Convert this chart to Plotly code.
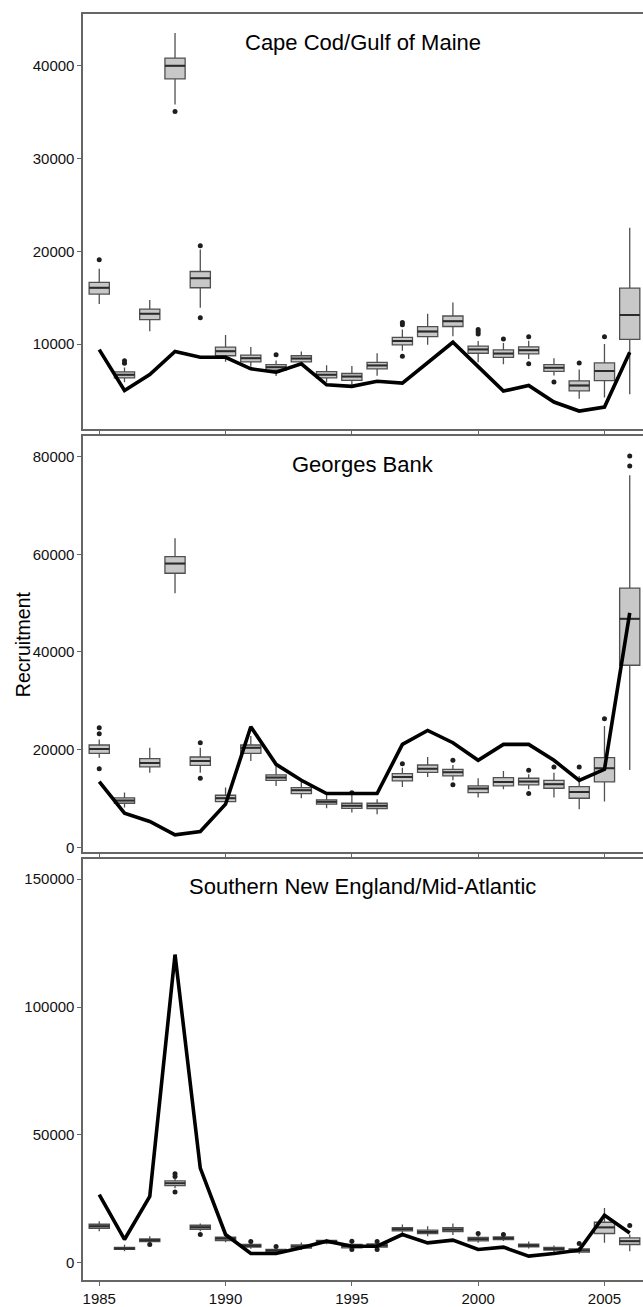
import plotly.graph_objects as go

# Recruitment by year for three stock areas: simulated distributions (boxes)
# and the point estimate series (black line).
years = list(range(1985, 2007))

# Cape Cod/Gulf of Maine
cc_q1 = [15400, 6380, 12640, 38570, 16080, 8760, 8100, 7200, 8100, 6385, 6120,
         7340, 9940, 10820, 11910, 9030, 8580, 8960, 7085, 4990, 6080, 10530]
cc_med = [16075, 6720, 13290, 39970, 17100, 9250, 8500, 7530, 8460, 6725, 6525,
          7720, 10355, 11370, 12485, 9445, 8995, 9355, 7475, 5560, 7110, 13145]
cc_q3 = [16650, 7030, 13790, 40800, 17830, 9690, 8840, 7815, 8760, 7045, 6850,
         8060, 10730, 11890, 13040, 9800, 9405, 9725, 7815, 6065, 7995, 16040]
cc_lo = [14325, 5920, 11410, 35800, 13930, 8130, 7580, 6580, 7700, 5920, 5600,
         6600, 9300, 9940, 10860, 8070, 7850, 8420, 6630, 4130, 4260, 4630]
cc_hi = [18120, 7500, 14755, 43510, 20200, 11000, 9710, 8240, 9225, 7740, 7670,
         9030, 11580, 13290, 14485, 10350, 10140, 10390, 8480, 7275, 10030, 22550]
cc_out_year = [1985, 1986, 1986, 1988, 1989, 1989, 1992, 1997, 1997, 1997,
               2000, 2000, 2000, 2001, 2002, 2002, 2003, 2004, 2005]
cc_out_val = [19100, 7950, 8230, 35050, 20600, 12860, 8870, 12100, 12350, 8720,
              11100, 11350, 11600, 10570, 10820, 7900, 5950, 7980, 10820]
cc_line = [9420, 5020, 6740, 9230, 8600, 8600, 7350, 6995, 7900, 5635, 5470,
           6010, 5815, 8030, 10215, 7590, 4960, 5560, 3780, 2810, 3240, 9140]

# Georges Bank
gb_q1 = [19245, 9040, 16470, 56120, 16800, 9390, 19245, 13735, 11020, 8840, 8000,
         7960, 13605, 15365, 14635, 11225, 12590, 12795, 12110, 10060, 13400, 37290]
gb_med = [20140, 9590, 17285, 58100, 17690, 10060, 20400, 14285, 11695, 9325, 8540,
          8510, 14430, 16120, 15375, 12040, 13400, 13470, 12925, 11360, 16190, 46800]
gb_q3 = [20960, 10140, 18165, 59530, 18500, 10675, 20960, 14835, 12245, 9735, 9040,
         9040, 15100, 16870, 15985, 12590, 14285, 14150, 13735, 12450, 18365, 53060]
gb_lo = [18370, 8160, 15305, 52040, 15305, 8510, 17690, 12590, 10060, 8020, 7140,
         6800, 12380, 14430, 13735, 10205, 11905, 11905, 10205, 7820, 9390, 15850]
gb_hi = [22100, 11225, 20410, 63265, 20410, 12245, 22800, 16675, 13470, 10880, 10755,
         9860, 16325, 18500, 16870, 14150, 15645, 14965, 15305, 14635, 24830, 76190]
gb_out_year = [1985, 1985, 1985, 1989, 1989, 1995, 1997, 1999, 1999, 2002, 2002,
               2003, 2004, 2005, 2006, 2006]
gb_out_val = [24490, 23265, 16120, 21430, 14150, 11200, 17140, 17820, 12800, 15780,
              11020, 16470, 16470, 26330, 80140, 78100]
gb_line = [13470, 7010, 5305, 2585, 3265, 8845, 24695, 17005, 13735, 11020, 11020,
           11020, 21090, 23945, 21430, 17825, 21090, 21090, 17825, 13735, 15985, 48000]

# Southern New England/Mid-Atlantic
sn_q1 = [13520, 5220, 8340, 30160, 13130, 8730, 6120, 4290, 5730, 7790, 5850,
         6120, 12470, 11460, 12240, 8570, 9120, 6235, 4950, 4170, 11460, 7170]
sn_med = [14300, 5610, 8850, 31060, 13910, 9510, 6625, 4830, 6390, 8340, 6510,
          6780, 13130, 12080, 13015, 9235, 9625, 6780, 5455, 4830, 13840, 8455]
sn_q3 = [15080, 6000, 9350, 32000, 14690, 10015, 7170, 5220, 7015, 8730, 7170,
         7405, 13795, 12745, 13795, 9900, 10130, 7290, 6000, 5455, 15860, 9745]
sn_lo = [12350, 4560, 7700, 29110, 12350, 8000, 5500, 3700, 5000, 7300, 5500,
         5600, 11460, 10400, 10900, 7800, 8500, 5600, 4200, 3500, 7800, 4560]
sn_hi = [16250, 7015, 10400, 32735, 15350, 11300, 7700, 5700, 7900, 9300, 7800,
         7900, 14960, 14300, 15350, 10700, 10500, 8340, 6800, 6200, 21430, 11070]
sn_out_year = [1987, 1988, 1988, 1988, 1989, 1991, 1992, 1995, 1995, 1996, 1996,
               2000, 2001, 2004, 2006]
sn_out_val = [7170, 34840, 33790, 27670, 11070, 8340, 6390, 8460, 5220, 8340, 5220,
              11460, 11070, 7560, 14575]
sn_line = [26700, 9120, 25990, 120500, 37020, 11070, 3660, 3660, 5850, 8460, 6500,
           6500, 11070, 7790, 8850, 5220, 6120, 2610, 3660, 4950, 18590, 11690]

panels = [
    ("Cape Cod/Gulf of Maine", cc_q1, cc_med, cc_q3, cc_lo, cc_hi,
     cc_out_year, cc_out_val, cc_line),
    ("Georges Bank", gb_q1, gb_med, gb_q3, gb_lo, gb_hi,
     gb_out_year, gb_out_val, gb_line),
    ("Southern New England/Mid-Atlantic", sn_q1, sn_med, sn_q3, sn_lo, sn_hi,
     sn_out_year, sn_out_val, sn_line),
]

W, H = 643, 1307
FONT = "Liberation Sans, Arial, Helvetica, sans-serif"
AXIS_GREY = "#666666"

# panel geometry in pixels (top, bottom) and value ranges
panel_px = [(14.3, 430.7), (437.7, 854.3), (861.7, 1284.3)]
y_ranges = [[837, 45517], [-878, 84142], [-6859, 157829]]
y_ticks = [[10000, 20000, 30000, 40000],
           [0, 20000, 40000, 60000, 80000],
           [0, 50000, 100000, 150000]]
x_left_px = 82.3
x_range = [1984.364, 2006.525]

fig = go.Figure()
annotations = []

for i, (title, q1, med, q3, lo, hi, oy, ov, line) in enumerate(panels):
    n = "" if i == 0 else str(i + 1)
    xa, ya = "x" + n, "y" + n

    fig.add_trace(go.Box(
        x=years, q1=q1, median=med, q3=q3, lowerfence=lo, upperfence=hi,
        width=0.8, whiskerwidth=0, boxpoints=False,
        fillcolor="#c8c8c8", line=dict(color="#505050", width=1.3),
        xaxis=xa, yaxis=ya, showlegend=False, hoverinfo="skip",
    ))
    # darker median bars drawn over each box
    fig.add_trace(go.Scatter(
        x=years, y=med, mode="markers",
        marker=dict(size=0.1, color="rgba(0,0,0,0)"),
        error_x=dict(type="constant", value=0.4, width=0,
                     thickness=2, color="#2b2b2b"),
        xaxis=xa, yaxis=ya, showlegend=False, hoverinfo="skip",
    ))
    fig.add_trace(go.Scatter(
        x=oy, y=ov, mode="markers",
        marker=dict(size=5, color="#1e1e1e"),
        xaxis=xa, yaxis=ya, showlegend=False, hoverinfo="skip",
    ))
    fig.add_trace(go.Scatter(
        x=years, y=line, mode="lines",
        line=dict(color="#000000", width=3.6),
        xaxis=xa, yaxis=ya, showlegend=False, hoverinfo="skip",
    ))

    top, bot = panel_px[i]
    dom = [1 - bot / H, 1 - top / H]
    fig.layout["xaxis" + n] = dict(
        domain=[x_left_px / W, 1.0], range=x_range, anchor=ya,
        showline=True, mirror=True, linecolor=AXIS_GREY, linewidth=1.5,
        showgrid=False, zeroline=False,
        ticks="outside", ticklen=4, tickwidth=1.2, tickcolor=AXIS_GREY,
        tickvals=[1985, 1990, 1995, 2000, 2005],
        showticklabels=(i == 2),
        tickfont=dict(family=FONT, size=15, color="#111111"),
    )
    fig.layout["yaxis" + n] = dict(
        domain=dom, range=y_ranges[i], anchor=xa,
        showline=True, mirror=False, linecolor=AXIS_GREY, linewidth=1.5,
        showgrid=False, zeroline=False,
        ticks="outside", ticklen=4, tickwidth=1.2, tickcolor=AXIS_GREY,
        tickvals=y_ticks[i], tickformat="d",
        tickfont=dict(family=FONT, size=15, color="#111111"),
    )
    annotations.append(dict(
        text=title, xref="paper", yref="paper",
        x=362.5 / W, y=1 - (top + 28) / H,
        xanchor="center", yanchor="middle", showarrow=False,
        font=dict(family=FONT, size=22, color="#000000"),
    ))

annotations.append(dict(
    text="Recruitment", xref="paper", yref="paper",
    x=21.5 / W, y=1 - 645.7 / H, textangle=-90,
    xanchor="center", yanchor="middle", showarrow=False,
    font=dict(family=FONT, size=19.5, color="#000000"),
))

fig.update_layout(
    width=W, height=H,
    margin=dict(l=0, r=0, t=0, b=0),
    paper_bgcolor="white", plot_bgcolor="white",
    annotations=annotations,
    boxmode="overlay",
)

fig.write_html("out.html")
